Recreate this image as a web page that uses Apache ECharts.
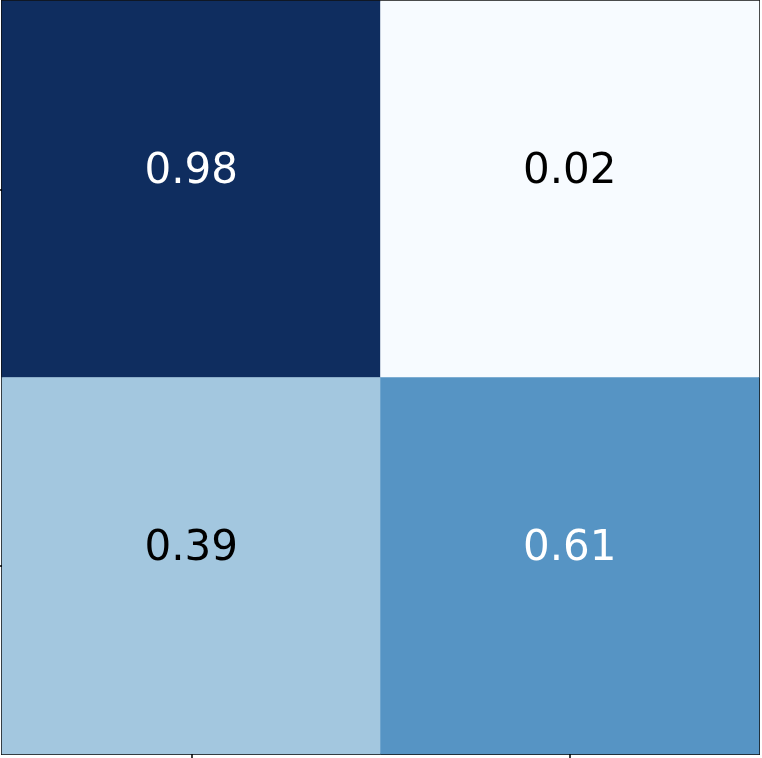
<!DOCTYPE html>
<html>
<head>
<meta charset="utf-8">
<script src="https://cdn.jsdelivr.net/npm/echarts@6/dist/echarts.min.js"></script>
<style>html,body{margin:0;padding:0;background:#fff}#c{width:762px;height:758px}</style>
</head>
<body>
<div id="c"></div>
<script>
var xCategories = ['0', '1'];
var yCategories = ['0', '1'];
// rows (true label) x columns (predicted)
var row0 = [0.98, 0.02];
var row1 = [0.39, 0.61];
var rows = [row0, row1];

var data = [];
rows.forEach(function (r, yi) {
  r.forEach(function (v, xi) {
    data.push({
      value: [xi, yi, v],
      label: { color: v > 0.5 ? '#ffffff' : '#000000' }
    });
  });
});

var chart = echarts.init(document.getElementById('c'));
chart.setOption({
  animation: false,
  grid: { left: 2, top: 1, right: 3, bottom: 4, show: true, borderColor: '#111', borderWidth: 2, backgroundColor: 'transparent' },
  xAxis: {
    type: 'category', data: xCategories, position: 'bottom',
    axisLine: { show: false },
    axisTick: { show: true, alignWithLabel: true, length: 4, lineStyle: { color: '#000', width: 1.5 } },
    axisLabel: { show: false }, splitLine: { show: false }, z: 10
  },
  yAxis: {
    type: 'category', data: yCategories, inverse: true,
    axisLine: { show: false },
    axisTick: { show: true, alignWithLabel: true, length: 4, lineStyle: { color: '#000', width: 1.5 } },
    axisLabel: { show: false }, splitLine: { show: false }, z: 10
  },
  visualMap: {
    show: false, type: 'piecewise', dimension: 2,
    pieces: [
      { min: 0, max: 0.2, color: '#f7fbff' },
      { min: 0.2, max: 0.5, color: '#a3c7df' },
      { min: 0.5, max: 0.8, color: '#5694c4' },
      { min: 0.8, max: 1, color: '#0f2d5f' }
    ]
  },
  series: [{
    type: 'heatmap',
    data: data,
    itemStyle: { borderWidth: 0 },
    label: {
      show: true,
      fontFamily: 'DejaVu Sans',
      fontSize: 42,
      offset: [0, -17],
      formatter: function (p) { return p.value[2].toFixed(2); }
    },
    emphasis: { disabled: true }
  }]
});
</script>
</body>
</html>
